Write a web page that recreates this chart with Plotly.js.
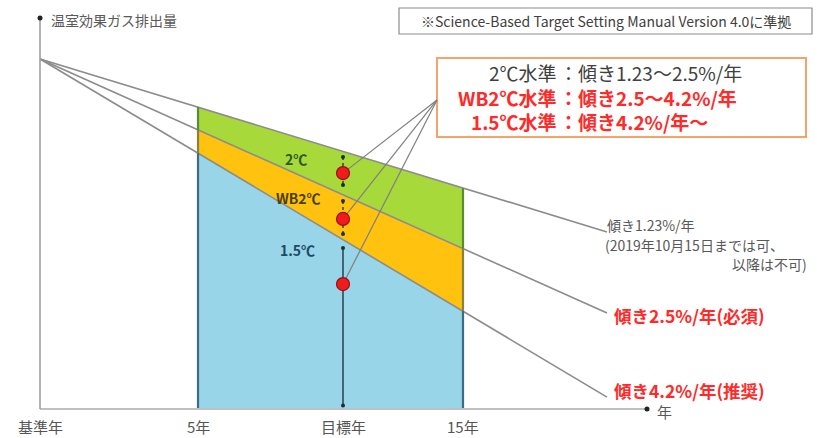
<!DOCTYPE html>
<html><head><meta charset="utf-8">
<script src="https://cdn.plot.ly/plotly-3.0.1.min.js"></script>
<style>html,body{margin:0;padding:0;background:#fff}</style>
</head><body><div id="chart" style="width:817px;height:438px"></div>
<script>
// Schematic horizontal positions: 基準年, 5年, 目標年, 15年, end of slope lines
const posX = [0, 15.8, 30.3, 42.3, 56.7];
const tickLabels = ['基準年', '5年', '目標年', '15年'];
// Emissions (base year = 100) along each reduction pathway at posX
const slope123 = [100, 86.3, 73.6, 63.1, 50.6];
const slope25  = [100, 79.7, 61.2, 46.0, 27.4];
const slope42  = [100, 73.1, 48.4, 28.0, 3.4];
// Target-year markers
const dotY = [67.4, 54.3, 35.7];
const arrow2   = [72.0, 64.0];
const arrowWB2 = [59.4, 50.0];
const arrow15  = [46.0, 1.0];
const calloutPoint = [39.7, 88.3];
// Legend box text
const levelNames = ['2℃水準', 'WB2℃水準', '1.5℃水準'];
const levelSlopes = ['：傾き1.23～2.5%/年', '：傾き2.5～4.2%/年', '：傾き4.2%/年～'];

const X = px => (px - 40) / 10;
const Y = py => (409 - py) / 3.5;
const FONT = '"Noto Sans CJK JP", "Noto Sans", sans-serif';
const RED = '#ff2a2a';
const GRAY = '#595959';

const p1 = posX[1], p3 = posX[3], pt = posX[2];
const traces = [];
// Areas
traces.push({x:[p1,p3,p3,p1], y:[slope42[1], slope42[3], 0, 0], fill:'toself', fillcolor:'#98d5e8', line:{width:0}, mode:'lines', hoverinfo:'skip'});
traces.push({x:[p1,p3,p3,p1], y:[slope25[1], slope25[3], slope42[3], slope42[1]], fill:'toself', fillcolor:'#ffc20e', line:{width:0}, mode:'lines', hoverinfo:'skip'});
traces.push({x:[p1,p3,p3,p1], y:[slope123[1], slope123[3], slope25[3], slope25[1]], fill:'toself', fillcolor:'#a8d93a', line:{width:0}, mode:'lines', hoverinfo:'skip'});
// Slope lines
[slope123, slope25, slope42].forEach(s => {
  traces.push({x:[posX[0], posX[4]], y:[s[0], s[4]], mode:'lines', line:{color:'#8c8c8c', width:1.6}, hoverinfo:'skip'});
});
// Box edges
[1,3].forEach(i => {
  traces.push({x:[posX[i], posX[i]], y:[slope123[i], slope25[i]], mode:'lines', line:{color:'#5d8a3a', width:2.2}, hoverinfo:'skip'});
  traces.push({x:[posX[i], posX[i]], y:[slope25[i], slope42[i]], mode:'lines', line:{color:'#8a8040', width:2.2}, hoverinfo:'skip'});
  traces.push({x:[posX[i], posX[i]], y:[slope42[i], 0], mode:'lines', line:{color:'#3d6c80', width:2.2}, hoverinfo:'skip'});
});
// Target arrows
traces.push({x:[pt,pt], y:arrow2, mode:'lines+markers', line:{color:'#1f2f2f', width:1.3, dash:'dot'}, marker:{size:4, color:'#1f2f2f'}, hoverinfo:'skip'});
traces.push({x:[pt,pt], y:arrowWB2, mode:'lines+markers', line:{color:'#1f2f2f', width:1.3, dash:'dot'}, marker:{size:4, color:'#1f2f2f'}, hoverinfo:'skip'});
traces.push({x:[pt,pt], y:arrow15, mode:'lines+markers', line:{color:'#2a4a5a', width:1.6}, marker:{size:4, color:'#1f2f2f'}, hoverinfo:'skip'});
// Callout lines
dotY.forEach(d => {
  traces.push({x:[pt, calloutPoint[0]], y:[d, calloutPoint[1]], mode:'lines', line:{color:'#7f7f7f', width:1.2}, hoverinfo:'skip'});
});
// Red dots
traces.push({x:dotY.map(() => pt), y:dotY, mode:'markers', marker:{size:13, color:'#ee1c1c', line:{color:'#9a1010', width:1.2}}, hoverinfo:'skip'});

const shapes = [
  {type:'line', x0:0, y0:0, x1:X(647), y1:0, line:{color:'#c0c0c0', width:2}},
  {type:'line', x0:0, y0:0, x1:0, y1:Y(18), line:{color:'#a0a0a0', width:1.6}},
  {type:'circle', x0:X(644.5), x1:X(649.5), y0:Y(406.5), y1:Y(411.5), fillcolor:'#222', line:{width:0}},
  {type:'circle', x0:X(37.5), x1:X(42.5), y0:Y(15.5), y1:Y(20.5), fillcolor:'#222', line:{width:0}},
  {type:'rect', x0:X(399), x1:X(812), y0:Y(8), y1:Y(34), line:{color:'#8c8c8c', width:1.2}, fillcolor:'rgba(0,0,0,0)'},
  {type:'rect', x0:X(437), x1:X(806), y0:Y(58), y1:Y(137), line:{color:'#f4a46a', width:2}, fillcolor:'#ffffff', layer:'below'}
];

const ann = (text, px, py, opts) => Object.assign({text, x:X(px), y:Y(py), xref:'x', yref:'y', showarrow:false,
  xanchor:'left', yanchor:'middle', borderpad:0, font:{family:FONT, size:13, color:GRAY}}, opts || {});

const lineColors = ['#404040', RED, RED];
const styled = arr => arr.map((t, i) => i === 0
  ? `<span style="color:${lineColors[i]}">${t}</span>`
  : `<span style="color:${lineColors[i]}"><b>${t}</b></span>`).join('<br>');

const annotations = [
  ann('温室効果ガス排出量', 50, 20, {font:{family:FONT, size:14, color:GRAY}}),
  ann('※Science-Based Target Setting Manual Version 4.0に準拠', 605.5, 21, {xanchor:'center', font:{family:FONT, size:14, color:'#404040'}}),
  ann(styled(levelNames), 558, 96.5, {xanchor:'right', align:'right', font:{family:FONT, size:19, color:'#404040'}}),
  ann(styled(levelSlopes), 558, 96.5, {xanchor:'left', align:'left', font:{family:FONT, size:19, color:'#404040'}}),
  ann('<b>2℃</b>', 296, 159, {xanchor:'center', font:{family:FONT, size:14, color:'#2d5a1e'}}),
  ann('<b>WB2℃</b>', 298, 198, {xanchor:'center', font:{family:FONT, size:14, color:'#4a3f12'}}),
  ann('<b>1.5℃</b>', 297, 250, {xanchor:'center', font:{family:FONT, size:14, color:'#1d4a66'}}),
  ann('傾き1.23%/年', 606, 225, {font:{family:FONT, size:14, color:GRAY}}),
  ann('(2019年10月15日までは可、', 604, 244.5, {font:{family:FONT, size:14, color:GRAY}}),
  ann('以降は不可)', 808, 264, {xanchor:'right', font:{family:FONT, size:14, color:GRAY}}),
  ann('<b>傾き2.5%/年(必須)</b>', 613, 315, {font:{family:FONT, size:17.5, color:RED}}),
  ann('<b>傾き4.2%/年(推奨)</b>', 613, 390, {font:{family:FONT, size:17.5, color:RED}}),
  ann('年', 656, 411, {font:{family:FONT, size:15, color:GRAY}})
];
tickLabels.forEach((t, i) => {
  annotations.push({text:t, x:posX[i], y:Y(438), xref:'x', yref:'y', showarrow:false, xanchor:'center', yanchor:'bottom',
    borderpad:0, font:{family:FONT, size:15, color:'#555555'}});
});

const layout = {
  width:817, height:438, margin:{l:0, r:0, t:0, b:0},
  paper_bgcolor:'#fff', plot_bgcolor:'#fff', showlegend:false,
  xaxis:{range:[X(0), X(817)], visible:false, fixedrange:true},
  yaxis:{range:[Y(438), Y(0)], visible:false, fixedrange:true},
  shapes, annotations
};
Plotly.newPlot('chart', traces, layout, {displayModeBar:false, staticPlot:true});
</script></body></html>
